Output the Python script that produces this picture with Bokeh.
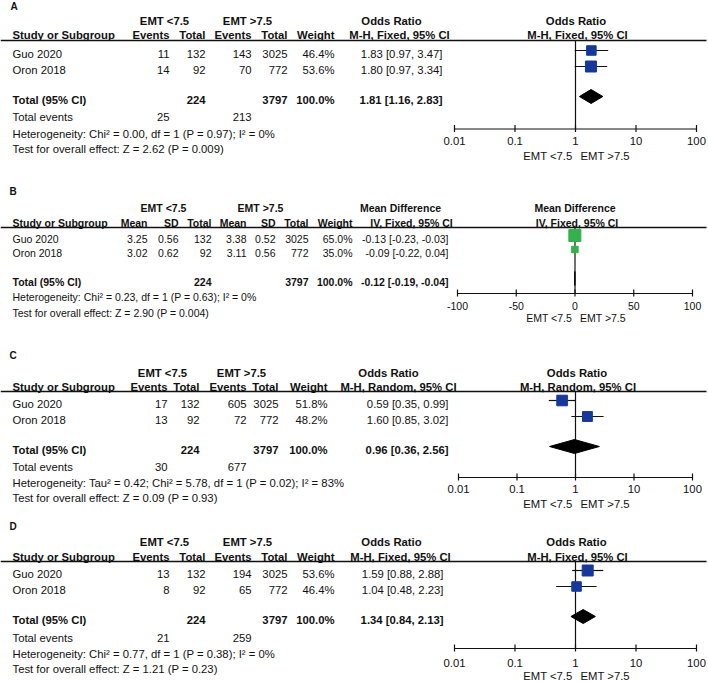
import math
from bokeh.plotting import figure
from bokeh.models import Range1d, LogScale, LinearScale
from bokeh.core.properties import value
from bokeh.embed import file_html
from bokeh.resources import INLINE

FONT = "Liberation Sans"
INK = "#111111"
BLUE = "#16389a"
GREEN = "#33b14a"

# ---------------- data ----------------
studies = ["Guo 2020", "Oron 2018"]
arm_labels = ["EMT <7.5", "EMT >7.5"]
or_ticks = [0.01, 0.1, 1, 10, 100]
or_tick_labels = ["0.01", "0.1", "1", "10", "100"]
md_ticks = [-100, -50, 0, 50, 100]
md_tick_labels = ["-100", "-50", "0", "50", "100"]

# Panel A : odds ratio, M-H fixed
A_events_lo = [11, 14]
A_total_lo = [132, 92]
A_events_hi = [143, 70]
A_total_hi = [3025, 772]
A_weight = [46.4, 53.6]
A_est = [1.83, 1.80]
A_ci_lo = [0.97, 0.97]
A_ci_hi = [3.47, 3.34]
A_totals = [224, 3797]
A_total_events = [25, 213]
A_pooled = [1.81, 1.16, 2.83]
A_het = "Heterogeneity: Chi\u00b2 = 0.00, df = 1 (P = 0.97); I\u00b2 = 0%"
A_test = "Test for overall effect: Z = 2.62 (P = 0.009)"

# Panel B : mean difference, IV fixed
B_mean_lo = [3.25, 3.02]
B_sd_lo = [0.56, 0.62]
B_total_lo = [132, 92]
B_mean_hi = [3.38, 3.11]
B_sd_hi = [0.52, 0.56]
B_total_hi = [3025, 772]
B_weight = [65.0, 35.0]
B_est = [-0.13, -0.09]
B_ci_lo = [-0.23, -0.22]
B_ci_hi = [-0.03, 0.04]
B_totals = [224, 3797]
B_pooled = [-0.12, -0.19, -0.04]
B_het = "Heterogeneity: Chi\u00b2 = 0.23, df = 1 (P = 0.63); I\u00b2 = 0%"
B_test = "Test for overall effect: Z = 2.90 (P = 0.004)"

# Panel C : odds ratio, M-H random
C_events_lo = [17, 13]
C_total_lo = [132, 92]
C_events_hi = [605, 72]
C_total_hi = [3025, 772]
C_weight = [51.8, 48.2]
C_est = [0.59, 1.60]
C_ci_lo = [0.35, 0.85]
C_ci_hi = [0.99, 3.02]
C_totals = [224, 3797]
C_total_events = [30, 677]
C_pooled = [0.96, 0.36, 2.56]
C_het = "Heterogeneity: Tau\u00b2 = 0.42; Chi\u00b2 = 5.78, df = 1 (P = 0.02); I\u00b2 = 83%"
C_test = "Test for overall effect: Z = 0.09 (P = 0.93)"

# Panel D : odds ratio, M-H fixed
D_events_lo = [13, 8]
D_total_lo = [132, 92]
D_events_hi = [194, 65]
D_total_hi = [3025, 772]
D_weight = [53.6, 46.4]
D_est = [1.59, 1.04]
D_ci_lo = [0.88, 0.48]
D_ci_hi = [2.88, 2.23]
D_totals = [224, 3797]
D_total_events = [21, 259]
D_pooled = [1.34, 0.84, 2.13]
D_het = "Heterogeneity: Chi\u00b2 = 0.77, df = 1 (P = 0.38); I\u00b2 = 0%"
D_test = "Test for overall effect: Z = 1.21 (P = 0.23)"

# ---------------- figure ----------------
X0, X1 = 0, 708
p = figure(width=708, height=681, x_range=Range1d(X0, X1), y_range=Range1d(681, 0),
           output_backend="svg", toolbar_location=None, min_border=0)
p.axis.visible = False
p.grid.visible = False
p.outline_line_color = None
p.background_fill_color = "white"


def log_range(xa, xb):
    dec = (xb - xa) / 4.0
    l0 = -2 - (xa - X0) / dec
    l1 = 2 + (X1 - xb) / dec
    return Range1d(10 ** l0, 10 ** l1)


def lin_range(xa, xb):
    u = (xb - xa) / 200.0
    return Range1d(-100 - (xa - X0) / u, 100 + (X1 - xb) / u)


p.extra_x_ranges = {"A": log_range(454, 696), "B": lin_range(457, 692),
                    "C": log_range(458, 692), "D": log_range(454, 696)}
p.extra_x_scales = {"A": LogScale(), "B": LinearScale(), "C": LogScale(), "D": LogScale()}


def T(x, y, s, align="left", bold=False, size="11px", rng="default", xoff=0):
    p.text(x=[x], y=[y], text=[s], text_font=value(FONT), text_font_size=size,
           text_font_style="bold" if bold else "normal", text_align=align,
           text_baseline="middle", text_color=INK, x_range_name=rng, x_offset=xoff)


def fmt_ci(e, l, h):
    return f"{e:.2f} [{l:.2f}, {h:.2f}]"


def panel(name, letter, L, heads, rows, total_cells, event_cells, eff_heads,
          est, lo, hi, weight, pooled, het, test, color, log=True, size_k=0.205, fs="11.3px"):
    # titles
    T(L["letter_x"], L["letter_y"], letter, bold=True, size="10px")
    T(L["group"][0], L["group_y"], arm_labels[0], align="center", bold=True, size=fs)
    T(L["group"][1], L["group_y"], arm_labels[1], align="center", bold=True, size=fs)
    T(L["eff_head"][0], L["group_y"], eff_heads[0], align="center", bold=True, size=fs)
    T(L["plot_head"][0], L["group_y"], eff_heads[0], align="center", bold=True, size=fs)
    # header row
    T(12, L["head_y"], "Study or Subgroup", bold=True, size=fs)
    for h, cx in zip(heads, L["cols"]):
        T(cx, L["head_y"], h, align="right", bold=True, size=fs)
    T(L["eff_head"][1], L["head_y"], eff_heads[1], align="center", bold=True, size=fs)
    T(L["plot_head"][1], L["head_y"], eff_heads[1], align="center", bold=True, size=fs)
    p.segment(x0=[0], x1=[706], y0=[L["line_y"]], y1=[L["line_y"]], line_color=INK, line_width=1.3)
    # study rows
    for i, s in enumerate(studies):
        y = L["rows"][i]
        T(12, y, s, size=fs)
        for c, cx in zip(rows[i], L["cols"]):
            T(cx, y, c, align="right", size=fs)
        T(L["eff_right"], y, fmt_ci(est[i], lo[i], hi[i]), align="right", size=fs)
    # total row
    T(12, L["total_y"], "Total (95% CI)", bold=True, size=fs)
    for c, cx in zip(total_cells, L["cols"]):
        if c:
            T(cx, L["total_y"], c, align="right", bold=True, size=fs)
    T(L["eff_right"], L["total_y"], fmt_ci(*pooled), align="right", bold=True, size=fs)
    if event_cells is not None:
        T(12, L["events_y"], "Total events", size=fs)
        for c, cx in zip(event_cells, L["cols"]):
            if c:
                T(cx, L["events_y"], c, align="right", size=fs)
    T(12, L["het_y"], het, size=fs)
    T(12, L["test_y"], test, size=fs)

    # forest plot
    ref = 1 if log else 0
    ticks = or_ticks if log else md_ticks
    tlabels = or_tick_labels if log else md_tick_labels
    p.segment(x0=[ref], x1=[ref], y0=[L["line_y"]], y1=[L["axis_y"]], x_range_name=name,
              line_color=INK, line_width=1.2)
    ys = [y - 3 for y in L["rows"]]
    p.segment(x0=lo, x1=hi, y0=ys, y1=ys, x_range_name=name, line_color=INK, line_width=1.2)
    p.scatter(x=est, y=ys, size=[w * size_k for w in weight], marker="square",
              fill_color=color, line_color=color, x_range_name=name)
    yd = L["total_y"] - 3
    p.patch(x=[pooled[1], pooled[0], pooled[2], pooled[0]], y=[yd, yd - 7, yd, yd + 7],
            fill_color="black", line_color="black", line_width=1, x_range_name=name)
    ay = L["axis_y"]
    p.segment(x0=[ticks[0]], x1=[ticks[-1]], y0=[ay], y1=[ay], x_range_name=name,
              line_color=INK, line_width=1.2)
    p.segment(x0=ticks, x1=ticks, y0=[ay - 4] * len(ticks), y1=[ay + 3] * len(ticks),
              x_range_name=name, line_color=INK, line_width=1.2)
    p.text(x=ticks, y=[L["tick_y"]] * len(ticks), text=tlabels, text_font=value(FONT),
           text_font_size=fs, text_align="center", text_baseline="middle",
           text_color=INK, x_range_name=name)
    T(ref, L["emt_y"], arm_labels[0], align="right", rng=name, xoff=-3, size=fs)
    T(ref, L["emt_y"], arm_labels[1], align="left", rng=name, xoff=5, size=fs)


ev_heads = ["Events", "Total", "Events", "Total", "Weight"]


def ev_rows(elo, tlo, ehi, thi, w):
    return [[str(elo[i]), str(tlo[i]), str(ehi[i]), str(thi[i]), f"{w[i]:.1f}%"] for i in range(2)]


LA = dict(letter_x=10, letter_y=6, group_y=20, head_y=34, line_y=40, rows=[53, 69], total_y=99,
          events_y=116, het_y=133, test_y=148, axis_y=128.5, tick_y=140, emt_y=155,
          cols=[169, 205, 251, 287, 334], group=[164, 247], eff_right=442,
          eff_head=[391, 399], plot_head=[575.5, 577])
panel("A", "A", LA, ev_heads, ev_rows(A_events_lo, A_total_lo, A_events_hi, A_total_hi, A_weight),
      ["", str(A_totals[0]), "", str(A_totals[1]), "100.0%"],
      [str(A_total_events[0]), "", str(A_total_events[1]), "", ""],
      ["Odds Ratio", "M-H, Fixed, 95% CI"], A_est, A_ci_lo, A_ci_hi, A_weight, A_pooled,
      A_het, A_test, BLUE)

LB = dict(letter_x=9, letter_y=191, group_y=207, head_y=222, line_y=227, rows=[238, 252], total_y=281,
          events_y=None, het_y=296, test_y=312, axis_y=293, tick_y=305, emt_y=317,
          cols=[147, 178, 211, 246, 275, 308, 352], group=[163, 260], eff_right=448,
          eff_head=[400, 411], plot_head=[574.5, 576.5])
B_rows = [[f"{B_mean_lo[i]:.2f}", f"{B_sd_lo[i]:.2f}", str(B_total_lo[i]), f"{B_mean_hi[i]:.2f}",
           f"{B_sd_hi[i]:.2f}", str(B_total_hi[i]), f"{B_weight[i]:.1f}%"] for i in range(2)]
panel("B", "B", LB, ["Mean", "SD", "Total", "Mean", "SD", "Total", "Weight"], B_rows,
      ["", "", str(B_totals[0]), "", "", str(B_totals[1]), "100.0%"], None,
      ["Mean Difference", "IV, Fixed, 95% CI"], B_est, B_ci_lo, B_ci_hi, B_weight, B_pooled,
      B_het, B_test, GREEN, log=False, size_k=0.185, fs="10.5px")

LC = dict(letter_x=9, letter_y=355, group_y=372, head_y=386, line_y=391, rows=[403, 419], total_y=449,
          events_y=466, het_y=482, test_y=497, axis_y=477, tick_y=488, emt_y=503,
          cols=[167, 199, 246, 278, 327], group=[162, 241], eff_right=448,
          eff_head=[388, 398], plot_head=[576.5, 577.5])
panel("C", "C", LC, ev_heads, ev_rows(C_events_lo, C_total_lo, C_events_hi, C_total_hi, C_weight),
      ["", str(C_totals[0]), "", str(C_totals[1]), "100.0%"],
      [str(C_total_events[0]), "", str(C_total_events[1]), "", ""],
      ["Odds Ratio", "M-H, Random, 95% CI"], C_est, C_ci_lo, C_ci_hi, C_weight, C_pooled,
      C_het, C_test, BLUE)

LD = dict(letter_x=9, letter_y=526, group_y=541, head_y=556, line_y=561, rows=[573, 589], total_y=619,
          events_y=637, het_y=653, test_y=668, axis_y=648, tick_y=662, emt_y=675,
          cols=[169, 205, 251, 287, 334], group=[164, 247], eff_right=443,
          eff_head=[391, 400], plot_head=[576, 577])
panel("D", "D", LD, ev_heads, ev_rows(D_events_lo, D_total_lo, D_events_hi, D_total_hi, D_weight),
      ["", str(D_totals[0]), "", str(D_totals[1]), "100.0%"],
      [str(D_total_events[0]), "", str(D_total_events[1]), "", ""],
      ["Odds Ratio", "M-H, Fixed, 95% CI"], D_est, D_ci_lo, D_ci_hi, D_weight, D_pooled,
      D_het, D_test, BLUE)

open("out.html", "w").write(file_html(p, INLINE))
